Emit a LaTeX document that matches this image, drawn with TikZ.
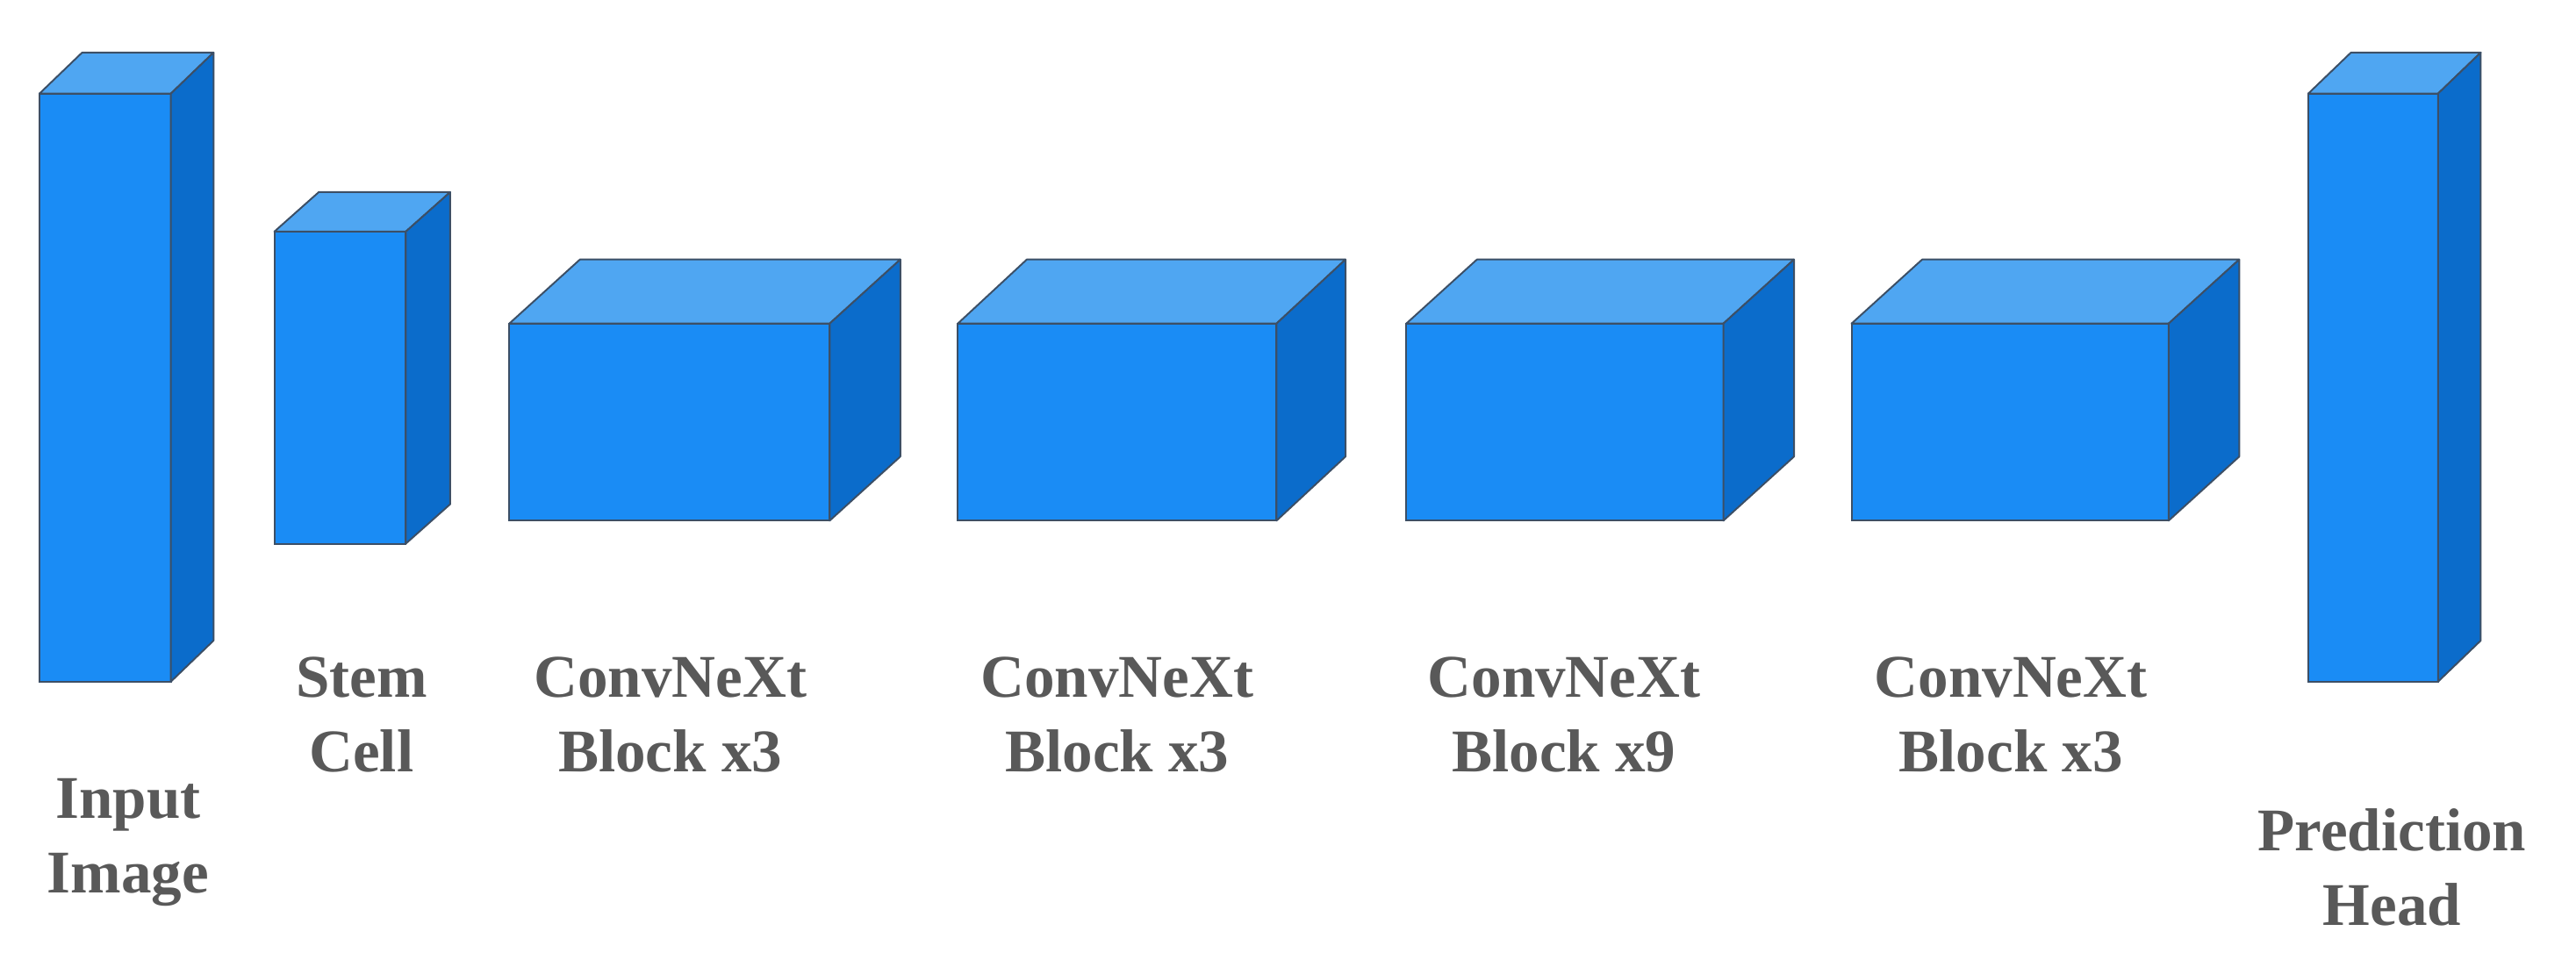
\documentclass[tikz,border=0pt]{standalone}
\usepackage{fontspec}
\setmainfont{Liberation Serif}
\usepackage{tikz}
\usetikzlibrary{positioning}

\definecolor{faceblue}{HTML}{1A8CF5}
\definecolor{topblue}{HTML}{4FA6F2}
\definecolor{sideblue}{HTML}{0B6CCB}
\definecolor{edgegray}{HTML}{3C4F66}
\definecolor{labelgray}{HTML}{595959}

% cuboid: name, x, y (lower left of front), width, height, depth x, depth y
\newcommand{\cuboid}[7]{%
  \node[front, minimum width=#4*0.02cm, minimum height=#5*0.02cm, anchor=south west] (#1) at (#2,#3) {};
  \filldraw[top] (#1.north west) -- ++(#6,#7) -- ++(#4,0) -- (#1.north east) -- cycle;
  \filldraw[side] (#1.north east) -- ++(#6,#7) -- ++(0,-#5) -- (#1.south east) -- cycle;
}

\begin{document}
\begin{tikzpicture}[
    x=0.02cm, y=0.02cm,
    front/.style={rectangle, fill=faceblue, draw=edgegray, line width=0.6pt, inner sep=0pt, outer sep=0pt},
    top/.style={fill=topblue, draw=edgegray, line width=0.6pt, line join=round},
    side/.style={fill=sideblue, draw=edgegray, line width=0.6pt, line join=round},
    lbl/.style={align=center, font=\fontsize{21}{26}\selectfont\bfseries, text=labelgray}
]
    \useasboundingbox (0,0) rectangle (1568,584);

    % Blocks
    \cuboid{input}{24}{169}{80}{358}{26}{25}
    \cuboid{stem}{167}{253}{80}{190}{27}{24}
    \cuboid{stage1}{310}{267}{195}{120}{43}{39}
    \cuboid{stage2}{583}{267}{194}{120}{42}{39}
    \cuboid{stage3}{856}{267}{193}{120}{43}{39}
    \cuboid{stage4}{1127}{267}{193}{120}{43}{39}
    \cuboid{head}{1405}{169}{79}{358}{26}{25}

    % Labels
    \node[lbl] (lbl-input) at (78,71) {Input\\Image};
    \node[lbl] (lbl-stem) at (220,149) {Stem\\Cell};
    \node[lbl] (lbl-stage1) at (408,149) {ConvNeXt\\Block x3};
    \node[lbl] (lbl-stage2) at (680,149) {ConvNeXt\\Block x3};
    \node[lbl] (lbl-stage3) at (952,149) {ConvNeXt\\Block x9};
    \node[lbl] (lbl-stage4) at (1224,149) {ConvNeXt\\Block x3};
    \node[lbl] (lbl-head) at (1456,56) {Prediction\\Head};
\end{tikzpicture}
\end{document}
